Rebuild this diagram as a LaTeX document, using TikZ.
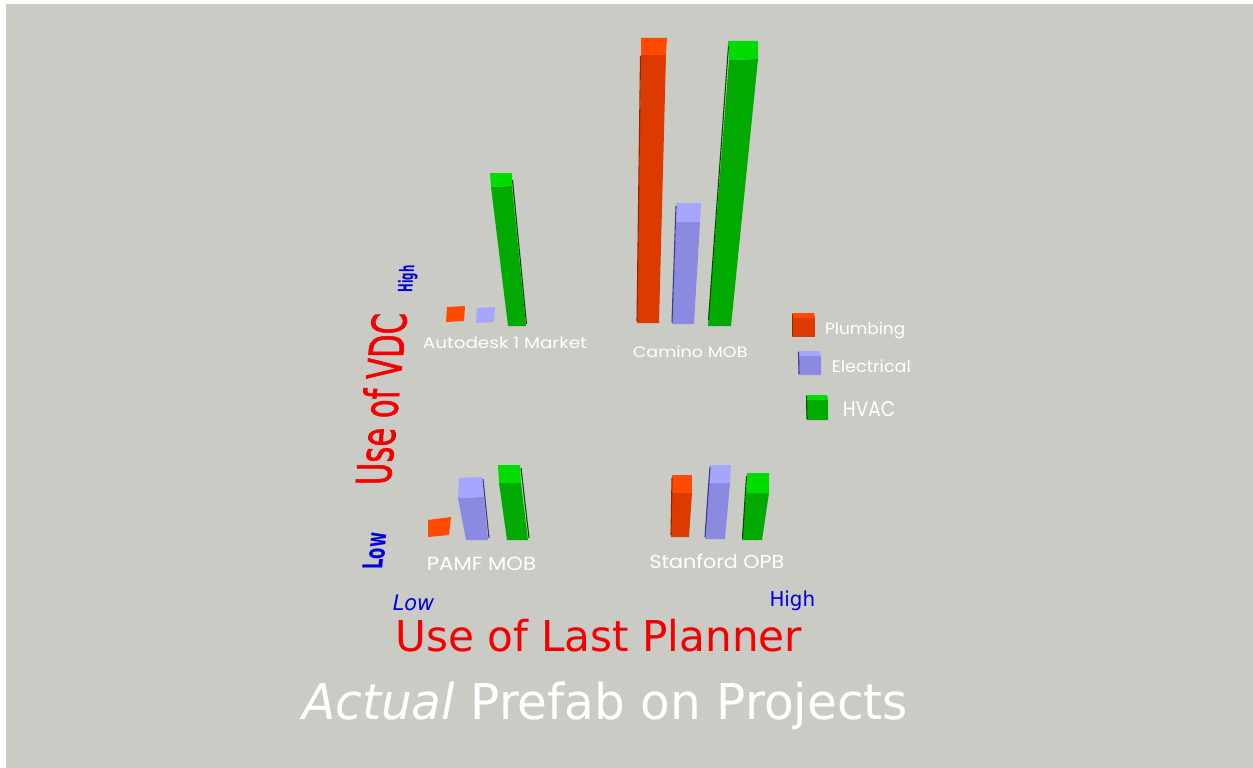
\documentclass[tikz,border=0pt]{standalone}
\usepackage{fontspec}
\setmainfont{DejaVu Sans}
\newfontfamily\geo{Poppins}
\newfontfamily\heavy[FakeBold=1.6]{DejaVu Sans}

\definecolor{bg}{RGB}{203,203,198}
\definecolor{redtop}{RGB}{255,74,0}
\definecolor{redfront}{RGB}{221,58,0}
\definecolor{rededge}{RGB}{150,34,0}
\definecolor{bluetop}{RGB}{166,166,255}
\definecolor{bluefront}{RGB}{138,138,224}
\definecolor{blueedge}{RGB}{60,60,130}
\definecolor{greentop}{RGB}{0,220,0}
\definecolor{greenfront}{RGB}{0,170,0}
\definecolor{greenedge}{RGB}{0,80,0}
\definecolor{axisred}{RGB}{245,0,0}
\definecolor{axisblue}{RGB}{0,0,220}

% text squeezed to a given width and height (in px units)
\newcommand\fitto[3]{\resizebox{#1pt}{#2pt}{#3}}
% one bar: colour prefix, top face, front face, dark edge line
\newcommand\prism[4]{%
  \fill[#1front] #3 -- cycle;
  \fill[#1top] #2 -- cycle;
  \draw[#1edge, line width=1.1pt] #4;}

\tikzset{
  lbl/.style={inner sep=0pt, text=white},
  axislbl/.style={inner sep=0pt, text=axisred},
  levellbl/.style={inner sep=0pt, text=axisblue},
}

\begin{document}
\begin{tikzpicture}[x=1pt,y=-1pt]
\useasboundingbox (0,0) rectangle (1253,768);
\fill[white] (0,0) rectangle (1253,768);
\fill[bg] (6,4) rectangle (1253,768);

% ---- Autodesk 1 Market ----
\fill[redtop] (447,307) -- (465,306) -- (464,321) -- (446,322) -- cycle;
\fill[bluetop] (477,308) -- (495,307) -- (494,322) -- (476,323) -- cycle;
\prism{green}{(490,173) -- (512,173) -- (512,186) -- (491,187)}
  {(491,187) -- (512,186) -- (526,326) -- (508,326)}
  {(512.5,180) -- (526.5,324)}

% ---- Camino MOB ----
\prism{red}{(641,38) -- (667,38) -- (666,55) -- (641,55)}
  {(641,55) -- (666,55) -- (659,323) -- (637,323)}
  {(640.5,56) -- (637,321)}
\prism{blue}{(676,203) -- (701,203) -- (700,222) -- (676,222)}
  {(676,222) -- (700,222) -- (694,324) -- (672,324)}
  {(676,206) -- (672,322)}
\prism{green}{(728,41) -- (758,41) -- (758,59) -- (729,60)}
  {(729,60) -- (758,59) -- (731,326) -- (708,326)}
  {(728.5,46) -- (708.5,320)}

% ---- PAMF MOB ----
\fill[redtop] (428,520) -- (451,517) -- (449,535) -- (428,537) -- cycle;
\prism{blue}{(459,478) -- (482,477) -- (484,497) -- (458,498)}
  {(458,498) -- (484,497) -- (488,540) -- (466,540)}
  {(483,479) -- (489,538)}
\prism{green}{(498,465) -- (520,465) -- (521,483) -- (499,483)}
  {(499,483) -- (521,483) -- (528,540) -- (507,540)}
  {(521,468) -- (529,538)}

% ---- Stanford OPB ----
\prism{red}{(672,475) -- (692,475) -- (692,493) -- (672,493)}
  {(672,493) -- (692,493) -- (689,537) -- (671,537)}
  {(672,478) -- (671,535)}
\prism{blue}{(710,465) -- (731,465) -- (730,483) -- (708,483)}
  {(708,483) -- (730,483) -- (725,539) -- (705,539)}
  {(710,467) -- (705,537)}
\prism{green}{(747,473) -- (769,473) -- (769,493) -- (746,493)}
  {(746,493) -- (769,493) -- (762,540) -- (742,540)}
  {(746.5,476) -- (742.5,538)}

% ---- legend cubes ----
\prism{red}{(792,313) -- (814,313) -- (815,318) -- (792,318)}
  {(792,318) -- (815,318) -- (815,337) -- (792,337)}
  {(792.5,314) -- (792.5,336)}
\prism{blue}{(798,351) -- (820,351) -- (821,356) -- (798,356)}
  {(798,356) -- (821,356) -- (821,375) -- (799,375)}
  {(798.5,352) -- (799,374)}
\prism{green}{(806,395) -- (827,395) -- (828,400) -- (806,400)}
  {(806,400) -- (828,400) -- (828,420) -- (807,420)}
  {(806.5,396) -- (807,419)}

% ---- project names ----
\node[lbl, anchor=base west] (autodesk) at (422.7,348.3) {\fitto{164}{11.5}{\geo Autodesk 1 Market}};
\node[lbl, anchor=base west] (camino) at (632.7,357.3) {\fitto{114.6}{11.5}{\geo Camino MOB}};
\node[lbl, anchor=base west] (pamf) at (426.7,570.7) {\fitto{109.3}{13.4}{\geo PAMF MOB}};
\node[lbl, anchor=base west] (stanford) at (649.3,568.3) {\fitto{134.7}{14.3}{\geo Stanford OPB}};

% ---- legend labels ----
\node[lbl, anchor=base west] (plumbing) at (825,334) {\fitto{80}{12.3}{\geo Plumbing}};
\node[lbl, anchor=base west] (electrical) at (831.7,372.7) {\fitto{79}{12.7}{\geo Electrical}};
\node[lbl, anchor=base west] (hvac) at (842.7,416.7) {\fitto{52.3}{15}{\geo HVAC}};

% ---- axes ----
\node[axislbl, anchor=base west] (lastplanner) at (395,651.7) {\fitto{407}{32.3}{Use of Last Planner}};
\node[axislbl, rotate=90, yslant=-0.1] (vdc) at (381,399) {\fitto{172}{36}{\heavy Use of VDC}};
\node[levellbl, anchor=base west] (xlow) at (392.7,610) {\fitto{41.3}{15.6}{\itshape Low}};
\node[levellbl, anchor=base west] (xhigh) at (769.3,606.7) {\fitto{45.7}{15.6}{High}};
\node[levellbl, rotate=90, yslant=-0.1] (yhigh) at (408,279) {\fitto{27}{15}{\bfseries High}};
\node[levellbl, rotate=90, yslant=-0.1] (ylow) at (375,551) {\fitto{37}{20}{\bfseries Low}};

% ---- title ----
\node[lbl, anchor=base west] (title) at (302,719) {\fitto{606}{37.5}{\itshape Actual\upshape{} Prefab on Projects}};
\end{tikzpicture}
\end{document}
